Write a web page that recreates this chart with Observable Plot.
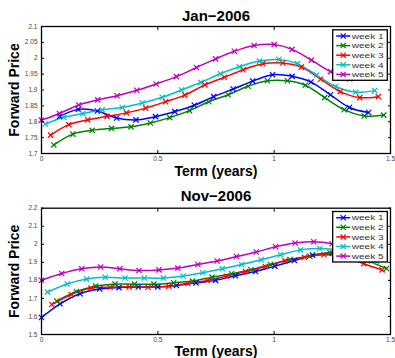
<!DOCTYPE html>
<html><head><meta charset="utf-8">
<script src="https://cdn.jsdelivr.net/npm/d3@7"></script>
<script src="https://cdn.jsdelivr.net/npm/@observablehq/plot@0.6"></script>
<style>
body{margin:0;background:#fff;}
#chart{position:relative;width:395px;height:358px;font-family:"Liberation Sans",Arial,sans-serif;}
#chart svg{display:block;}
</style></head><body><div id="chart"></div>
<script>
const weeks = ["week 1", "week 2", "week 3", "week 4", "week 5"];
const colors = ["#0000ff", "#008000", "#ff0000", "#00bfbf", "#bf00bf"];
const xTicks = [0, 0.5, 1, 1.5];
const janYTicks = [1.7, 1.75, 1.8, 1.85, 1.9, 1.95, 2, 2.05, 2.1];
const novYTicks = [1.5, 1.6, 1.7, 1.8, 1.9, 2, 2.1, 2.2];

// Jan-2006: term (years) and forward price for each week
const janTerms = [
  [0.078, 0.158, 0.240, 0.323, 0.406, 0.490, 0.573, 0.657, 0.740, 0.824, 0.908, 0.993, 1.077, 1.158, 1.242, 1.323, 1.406],
  [0.053, 0.135, 0.218, 0.301, 0.385, 0.468, 0.551, 0.636, 0.719, 0.802, 0.888, 0.971, 1.057, 1.134, 1.217, 1.301, 1.387, 1.471],
  [0.039, 0.117, 0.199, 0.282, 0.365, 0.448, 0.533, 0.616, 0.702, 0.786, 0.867, 0.951, 1.037, 1.117, 1.200, 1.284, 1.368, 1.448],
  [0.017, 0.096, 0.178, 0.261, 0.347, 0.433, 0.519, 0.602, 0.685, 0.769, 0.850, 0.937, 1.020, 1.100, 1.182, 1.264, 1.350, 1.432],
  [0.000, 0.077, 0.160, 0.242, 0.325, 0.410, 0.493, 0.580, 0.666, 0.748, 0.829, 0.914, 1.000, 1.077, 1.160, 1.242, 1.325]
];
const janPrices = [
  [1.817, 1.839, 1.834, 1.812, 1.806, 1.816, 1.832, 1.852, 1.879, 1.903, 1.928, 1.948, 1.943, 1.925, 1.885, 1.845, 1.829],
  [1.727, 1.761, 1.773, 1.779, 1.784, 1.796, 1.813, 1.835, 1.863, 1.885, 1.912, 1.929, 1.929, 1.915, 1.876, 1.838, 1.818, 1.821],
  [1.758, 1.791, 1.806, 1.817, 1.828, 1.843, 1.863, 1.884, 1.916, 1.940, 1.964, 1.983, 1.985, 1.972, 1.934, 1.895, 1.876, 1.879],
  [1.793, 1.814, 1.826, 1.838, 1.845, 1.859, 1.877, 1.900, 1.924, 1.951, 1.973, 1.991, 1.996, 1.983, 1.947, 1.911, 1.893, 1.898],
  [1.805, 1.826, 1.853, 1.869, 1.882, 1.899, 1.919, 1.942, 1.971, 1.998, 2.022, 2.040, 2.043, 2.028, 1.994, 1.958, 1.935]
];

// Nov-2006
const novTerms = [
  [0.000, 0.080, 0.166, 0.250, 0.333, 0.416, 0.500, 0.580, 0.664, 0.748, 0.834, 0.920, 1.003, 1.087, 1.165, 1.250, 1.333],
  [0.066, 0.150, 0.233, 0.316, 0.400, 0.483, 0.568, 0.649, 0.733, 0.817, 0.900, 0.984, 1.068, 1.153, 1.240, 1.320, 1.400, 1.483],
  [0.044, 0.128, 0.213, 0.295, 0.377, 0.458, 0.547, 0.629, 0.712, 0.796, 0.877, 0.962, 1.047, 1.130, 1.214, 1.300, 1.385, 1.464],
  [0.026, 0.111, 0.194, 0.274, 0.359, 0.442, 0.524, 0.609, 0.693, 0.777, 0.860, 0.944, 1.027, 1.113, 1.196, 1.275, 1.357, 1.440],
  [0.000, 0.087, 0.173, 0.254, 0.337, 0.419, 0.505, 0.586, 0.672, 0.755, 0.838, 0.923, 1.006, 1.090, 1.170, 1.249, 1.333, 1.417]
];
const novPrices = [
  [1.594, 1.670, 1.726, 1.752, 1.760, 1.763, 1.764, 1.772, 1.786, 1.800, 1.826, 1.849, 1.879, 1.910, 1.940, 1.950, 1.925],
  [1.685, 1.738, 1.768, 1.779, 1.779, 1.779, 1.787, 1.796, 1.818, 1.837, 1.859, 1.888, 1.916, 1.934, 1.953, 1.945, 1.908, 1.866],
  [1.666, 1.722, 1.757, 1.762, 1.764, 1.762, 1.768, 1.783, 1.799, 1.823, 1.849, 1.877, 1.908, 1.928, 1.942, 1.935, 1.892, 1.858],
  [1.735, 1.780, 1.807, 1.817, 1.813, 1.813, 1.813, 1.824, 1.842, 1.864, 1.888, 1.914, 1.942, 1.969, 1.977, 1.968, 1.935, 1.905],
  [1.801, 1.838, 1.864, 1.874, 1.864, 1.855, 1.858, 1.868, 1.888, 1.907, 1.932, 1.957, 1.986, 2.007, 2.014, 2.003, 1.975, 1.945]
];

const FONT = '"Liberation Sans", Arial, sans-serif';
const fmt = d => String(+(+d).toFixed(2));

function rows(terms, prices) {
  return weeks.flatMap((w, i) => terms[i].map((t, j) => ({week: w, term: t, price: prices[i][j]})));
}

function panel({title, terms, prices, yDomain, yTicks, marginTop, marginBottom, titleDy, xlabelDy}) {
  const data = rows(terms, prices);
  const W = 395, H = 179, ML = 41, MR = 5;
  const svg = Plot.plot({
    width: W, height: H, marginLeft: ML, marginRight: MR, marginTop, marginBottom,
    style: {fontFamily: FONT, background: "white", overflow: "visible"},
    x: {domain: [0, 1.5]},
    y: {domain: yDomain},
    color: {domain: weeks, range: colors},
    marks: [
      Plot.line(data, {x: "term", y: "price", stroke: "week", z: "week", curve: "catmull-rom", strokeWidth: 1.5}),
      Plot.dot(data, {x: "term", y: "price", stroke: "week", symbol: "times", r: 2.5, strokeWidth: 1.2}),
      Plot.axisX(xTicks, {anchor: "bottom", tickSize: 0, tickPadding: 3, tickFormat: fmt, fontSize: 6.5, fill: "#444", label: null}),
      Plot.axisX(xTicks, {anchor: "bottom", tickSize: 3, dy: -3, text: null, label: null}),
      Plot.axisX(xTicks, {anchor: "top", tickSize: 3, dy: 3, text: null, label: null}),
      Plot.axisY(yTicks, {anchor: "left", tickSize: 0, tickPadding: 4, tickFormat: fmt, fontSize: 6.5, fill: "#444", label: null}),
      Plot.axisY(yTicks, {anchor: "left", tickSize: 3, dx: 3, text: null, label: null}),
      Plot.axisY(yTicks, {anchor: "right", tickSize: 3, dx: -3, text: null, label: null}),
      Plot.frame({stroke: "black", strokeWidth: 1.3}),
      Plot.text([title], {text: d => d, frameAnchor: "top", textAnchor: "middle", lineAnchor: "bottom", dy: titleDy, fontSize: 15, fontWeight: "bold", fill: "black"}),
      Plot.text(["Term (years)"], {text: d => d, frameAnchor: "bottom", textAnchor: "middle", lineAnchor: "bottom", dy: xlabelDy, fontSize: 14, fontWeight: "bold", fill: "black"}),
      Plot.text(["Forward Price"], {text: d => d, frameAnchor: "left", textAnchor: "middle", rotate: -90, lineAnchor: "bottom", dx: -22.7, fontSize: 14, fontWeight: "bold", fill: "black"})
    ]
  });
  // legend box in upper right of the axes
  const bw = 54.6, bh = 50.5;
  const bx = W - MR - 2.7 - bw, by = marginTop + 3.8;
  const g = d3.select(svg).append("g").attr("font-family", FONT).attr("text-anchor", "start");
  g.append("rect").attr("x", bx).attr("y", by).attr("width", bw).attr("height", bh)
    .attr("fill", "white").attr("stroke", "black").attr("stroke-width", 1.3);
  weeks.forEach((w, i) => {
    const cy = by + 6.2 + i * 9.6;
    const c = colors[i];
    g.append("line").attr("x1", bx + 3.5).attr("x2", bx + 17.5).attr("y1", cy).attr("y2", cy)
      .attr("stroke", c).attr("stroke-width", 1.5);
    const cx = bx + 10.5, s = 2.6;
    g.append("path").attr("d", `M${cx - s},${cy - s}L${cx + s},${cy + s}M${cx - s},${cy + s}L${cx + s},${cy - s}`)
      .attr("stroke", c).attr("stroke-width", 1.2).attr("fill", "none");
    g.append("text").attr("x", bx + 19).attr("y", cy).attr("dy", "0.35em")
      .attr("text-anchor", "start")
      .attr("font-size", 7.8).attr("fill", "#333")
      .attr("textLength", 32).attr("lengthAdjust", "spacingAndGlyphs").text(w);
  });
  return svg;
}

const root = document.getElementById("chart");
root.appendChild(panel({title: "Jan\u22122006", terms: janTerms, prices: janPrices, yDomain: [1.7, 2.1], yTicks: janYTicks,
  marginTop: 26, marginBottom: 26, titleDy: -6, xlabelDy: 22}));
root.appendChild(panel({title: "Nov\u22122006", terms: novTerms, prices: novPrices, yDomain: [1.5, 2.2], yTicks: novYTicks,
  marginTop: 28.7, marginBottom: 24, titleDy: -7.2, xlabelDy: 21}));
</script></body></html>
